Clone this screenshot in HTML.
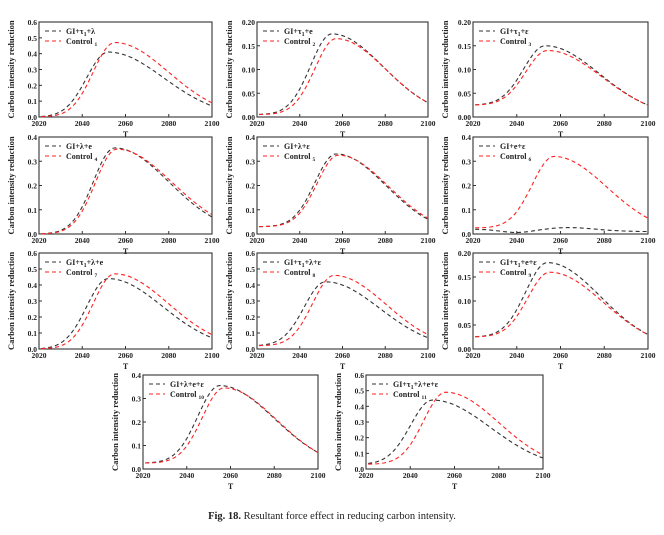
<!DOCTYPE html><html><head><meta charset="utf-8"><style>
body{margin:0;background:#fff;width:664px;height:535px;overflow:hidden}
svg{display:block;font-family:"Liberation Serif",serif}
</style></head><body>
<svg id="s" width="664" height="535" xmlns="http://www.w3.org/2000/svg">
<text x="332" y="519" text-anchor="middle" font-size="10.5" fill="#222"><tspan font-weight="bold">Fig. 18.</tspan> Resultant force effect in reducing carbon intensity.</text>
</svg>
<script>
const S=document.getElementById('s');const NS='http://www.w3.org/2000/svg';
function el(t,a,txt){const e=document.createElementNS(NS,t);for(const k in a)e.setAttribute(k,a[k]);if(txt!==undefined)e.innerHTML=txt;S.appendChild(e);return e;}
function sq(x){return x*x;}
const cols=[[39,212],[257,428],[473,648]];
const rows=[[22,117],[137,234],[253,349]];
const P=[
 {n:'GI+τ<tspan font-size="6" dy="2">1</tspan><tspan dy="-2">+λ</tspan>',m:.6,b:[2052,.41,0,.07],r:[2055,.47,0,.09]},
 {n:'GI+τ<tspan font-size="6" dy="2">1</tspan><tspan dy="-2">+e</tspan>',m:.2,b:[2055,.175,.005,.03],r:[2057,.165,.005,.03]},
 {n:'GI+τ<tspan font-size="6" dy="2">1</tspan><tspan dy="-2">+ε</tspan>',m:.2,b:[2053,.15,.025,.025],r:[2054,.14,.025,.025]},
 {n:'GI+λ+e',m:.4,b:[2055,.355,0,.07],r:[2056,.35,0,.08]},
 {n:'GI+λ+ε',m:.4,b:[2057,.33,.03,.06],r:[2058,.325,.03,.065]},
 {n:'GI+e+ε',m:.4,b:null,r:[2057,.32,.025,.065]},
 {n:'GI+τ<tspan font-size="6" dy="2">1</tspan><tspan dy="-2">+λ+e</tspan>',m:.6,b:[2052,.44,0,.07],r:[2055,.47,0,.09]},
 {n:'GI+τ<tspan font-size="6" dy="2">1</tspan><tspan dy="-2">+λ+ε</tspan>',m:.6,b:[2052,.42,.02,.07],r:[2056,.46,.02,.09]},
 {n:'GI+τ<tspan font-size="6" dy="2">1</tspan><tspan dy="-2">+e+ε</tspan>',m:.2,b:[2054,.18,.025,.03],r:[2055,.16,.025,.03]},
 {n:'GI+λ+e+ε',m:.4,b:[2055,.355,.025,.07],r:[2057,.345,.025,.07]},
 {n:'GI+τ<tspan font-size="6" dy="2">1</tspan><tspan dy="-2">+λ+e+ε</tspan>',m:.6,b:[2050,.44,.03,.07],r:[2056,.49,.03,.09]}
];
function f(c,t){const p=c[0],A=c[1],b0=c[2],e=c[3];if(t<p){const w=14;return b0+(A-b0)*Math.exp(-sq((t-p)/w));}
 const d=2100-p;const k=Math.log(A/(e+1e-4));const w=d/Math.sqrt(Math.max(k,.1));return A*Math.exp(-sq((t-p)/w));}
function fb6(t){return .02-.012*Math.exp(-sq((t-2040)/10))+.012*Math.exp(-sq((t-2065)/15))-.01*(t-2020)/80;}
P.forEach((p,i)=>{
 let x0,x1,y0,y1;
 if(i<9){x0=cols[i%3][0];x1=cols[i%3][1];y0=rows[Math.floor(i/3)][0];y1=rows[Math.floor(i/3)][1];}
 else{y0=375;y1=469;if(i==9){x0=143;x1=318;}else{x0=366;x1=543;}}
 const X=t=>x0+(t-2020)/80*(x1-x0),Y=v=>y1-v/p.m*(y1-y0);
 el('rect',{x:x0,y:y0,width:x1-x0,height:y1-y0,fill:'none',stroke:'#333','stroke-width':1.1});
 for(let t=2020;t<=2100;t+=20){el('line',{x1:X(t),x2:X(t),y1:y1,y2:y1-3,stroke:'#333'});
  el('text',{x:X(t),y:y1+9,'text-anchor':'middle','font-size':7.5,'font-weight':'bold',fill:'#222'},t);}
 const st=p.m==.2?.05:.1;
 for(let v=0;v<=p.m+1e-9;v+=st){el('line',{x1:x0,x2:x0+3,y1:Y(v),y2:Y(v),stroke:'#333'});
  el('text',{x:x0-2,y:Y(v)+3,'text-anchor':'end','font-size':7.5,'font-weight':'bold',fill:'#222'},p.m==.2?v.toFixed(2):v.toFixed(1));}
 el('text',{x:(x0+x1)/2,y:y1+20,'text-anchor':'middle','font-size':8,'font-weight':'bold',fill:'#222'},'T');
 const cy=(y0+y1)/2;el('text',{x:x0-25,y:cy,transform:'rotate(-90 '+(x0-25)+' '+cy+')','text-anchor':'middle','font-size':8.5,'font-weight':'bold',fill:'#222'},'Carbon intensity reduction');
 const path=fn=>{let d='';for(let t=2021;t<=2100;t+=1)d+=(t==2021?'M':'L')+X(t).toFixed(1)+','+Y(fn(t)).toFixed(1);return d;};
 el('path',{d:path(t=>p.b?f(p.b,t):fb6(t)),fill:'none',stroke:'#333','stroke-width':1.1,'stroke-dasharray':'4,3'});
 el('path',{d:path(t=>f(p.r,t)),fill:'none',stroke:'#f22','stroke-width':1.1,'stroke-dasharray':'4,3'});
 el('line',{x1:x0+6,x2:x0+22,y1:y0+9,y2:y0+9,stroke:'#333','stroke-dasharray':'4,3','stroke-width':1.1});
 el('line',{x1:x0+6,x2:x0+22,y1:y0+19,y2:y0+19,stroke:'#f22','stroke-dasharray':'4,3','stroke-width':1.1});
 el('text',{x:x0+27,y:y0+12,'font-size':8,'font-weight':'bold',fill:'#222'},p.n);
 el('text',{x:x0+27,y:y0+22,'font-size':8,'font-weight':'bold',fill:'#222'},'Control <tspan font-size="5.5" dy="2">'+(i+1)+'</tspan>');
});
</script>
</body></html>
